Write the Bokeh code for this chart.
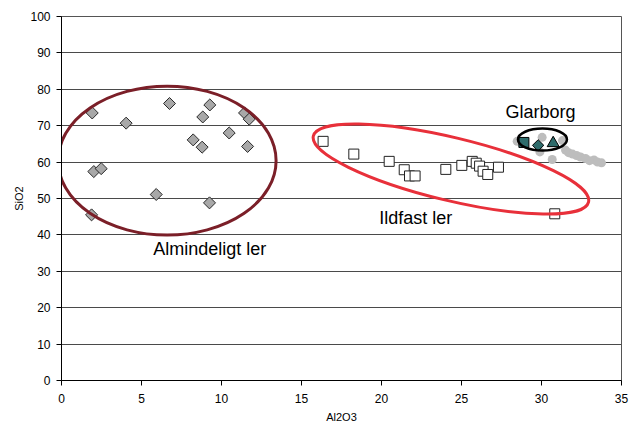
from bokeh.plotting import figure
from bokeh.models import Range1d, FixedTicker
from bokeh.embed import file_html
from bokeh.resources import INLINE
from bokeh.core.properties import value
import math

# Almindeligt ler (grey diamonds)
alm_al2o3 = [1.92, 6.75, 4.04, 9.27, 8.83, 11.44, 11.73, 10.48, 8.23, 8.79, 11.63, 2.02, 2.48, 5.92, 9.25, 1.88]
alm_sio2 = [73.5, 76.1, 70.7, 75.7, 72.4, 73.5, 71.8, 68.0, 66.1, 64.1, 64.3, 57.4, 58.2, 51.1, 48.8, 45.5]

# Ildfast ler (white squares)
ild_al2o3 = [16.35, 18.27, 20.48, 21.42, 21.75, 22.1, 24.02, 25.02, 25.67, 25.92, 26.13, 26.35, 26.64, 27.31, 30.83]
ild_sio2 = [65.7, 62.2, 60.2, 57.9, 56.2, 56.2, 58.0, 59.1, 60.2, 59.7, 58.9, 57.5, 56.6, 58.6, 45.8]

# light grey circles
grey_al2o3 = [28.48, 30.04, 29.9, 30.67, 31.31, 31.5, 31.69, 31.94, 32.19, 32.44, 32.75, 33.0, 33.28, 33.5, 33.75]
grey_sio2 = [65.7, 66.8, 62.8, 60.7, 65.9, 63.3, 62.6, 62.2, 61.8, 61.4, 61.0, 60.4, 60.6, 60.0, 59.8]

# Glarborg samples (teal)
glb_sq = (28.9, 65.4)
glb_di = (29.79, 64.6)
glb_tr = (30.73, 65.2)

# annotation centres (data coordinates)
alm_centre = (6.6, 60.4)
ild_centre = (24.34, 58.1)
glb_centre = (30.06, 66.2)

labels = ["Almindeligt ler", "Ildfast ler", "Glarborg"]
label_x = [9.27, 22.14, 29.94]
label_y = [36.1, 44.6, 73.9]

x_ticks = [0, 5, 10, 15, 20, 25, 30, 35]
y_ticks = [0, 10, 20, 30, 40, 50, 60, 70, 80, 90, 100]

FONT = "Liberation Sans"

p = figure(width=629, height=425, output_backend="svg", toolbar_location=None,
           x_range=Range1d(0, 35), y_range=Range1d(0, 100),
           min_border_left=61, min_border_right=8, min_border_top=16, min_border_bottom=45)
p.background_fill_color = "white"
p.border_fill_color = "white"
p.outline_line_color = "#555555"
p.outline_line_width = 1

p.xgrid.grid_line_color = None
p.ygrid.grid_line_color = "#4a4a4a"
p.ygrid.grid_line_width = 1
p.xaxis.ticker = FixedTicker(ticks=x_ticks)
p.yaxis.ticker = FixedTicker(ticks=y_ticks)
p.xaxis.axis_label = "Al2O3"
p.yaxis.axis_label = "SiO2"
for ax in (p.xaxis, p.yaxis):
    ax.axis_label_text_font = FONT
    ax.axis_label_text_font_size = "11px"
    ax.axis_label_text_font_style = "normal"
    ax.axis_label_text_color = "black"
    ax.major_label_text_font = FONT
    ax.major_label_text_font_size = "12px"
    ax.major_label_text_color = "black"
    ax.axis_line_color = "black"
    ax.major_tick_line_color = "black"
    ax.major_tick_out = 5
    ax.major_tick_in = 0
    ax.minor_tick_line_color = None
p.xaxis.major_label_standoff = 8
p.xaxis.axis_label_standoff = 5
p.yaxis.major_label_standoff = 6
p.yaxis.axis_label_standoff = 2
p.yaxis.major_label_orientation = "horizontal"

# markers
p.scatter(ild_al2o3, ild_sio2, marker="square", size=10, fill_color="white",
          line_color="#222222", line_width=1)
p.scatter(grey_al2o3, grey_sio2, marker="circle", size=9, fill_color="#bdbdbd",
          line_color=None)
p.scatter(alm_al2o3, alm_sio2, marker="square", size=8.5, angle=math.pi / 4,
          fill_color="#a8a8a8", line_color="#2a2a2a", line_width=1)
p.scatter([glb_sq[0]], [glb_sq[1]], marker="square", size=10, fill_color="#2e6b6b",
          line_color="black", line_width=1)
p.scatter([glb_di[0]], [glb_di[1]], marker="square", size=8, angle=math.pi / 4,
          fill_color="#2e6b6b", line_color="black", line_width=1)
p.scatter([glb_tr[0]], [glb_tr[1]], marker="triangle", size=12, fill_color="#2e6b6b",
          line_color="black", line_width=1)

# ellipses
p.ellipse(x=[alm_centre[0]], y=[alm_centre[1]], width=218, height=149,
          width_units="screen", height_units="screen",
          fill_color=None, line_color="#7b1f28", line_width=3)
p.ellipse(x=[ild_centre[0]], y=[ild_centre[1]], width=283, height=63,
          width_units="screen", height_units="screen", angle=-13.5, angle_units="deg",
          fill_color=None, line_color="#e8303a", line_width=3)
p.ellipse(x=[glb_centre[0]], y=[glb_centre[1]], width=49, height=22,
          width_units="screen", height_units="screen",
          fill_color=None, line_color="black", line_width=2.5)

p.text(x=label_x, y=label_y, text=labels, text_font=value(FONT), text_font_size="18px",
       text_align="center", text_baseline="alphabetic", text_color="black")

open("out.html", "w").write(file_html(p, INLINE))
